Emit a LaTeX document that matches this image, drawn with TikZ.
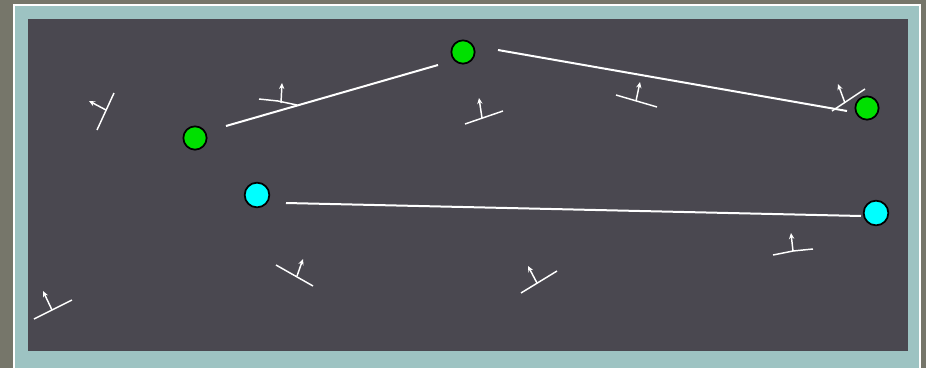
\documentclass[tikz,border=0pt]{standalone}
\usetikzlibrary{arrows.meta,calc}
\definecolor{outergray}{HTML}{76766A}
\definecolor{framecol}{HTML}{9DC3C2}
\definecolor{darkbg}{HTML}{4A4850}
\definecolor{ngreen}{HTML}{00E000}
\definecolor{ncyan}{HTML}{00FFFF}
\tikzset{
  pt/.style={circle, draw=black, line width=1.3pt, minimum size=17.5pt, inner sep=0pt, outer sep=0pt},
  gpt/.style={pt, fill=ngreen},
  cpt/.style={pt, fill=ncyan, minimum size=18.5pt},
  link/.style={white, line width=1.5pt},
  wall/.style={white, line width=1.1pt},
  dir/.style={white, line width=1.1pt, -{Stealth[length=4.5pt,width=4pt]}}
}
\begin{document}
\begin{tikzpicture}[x=0.75pt,y=-0.75pt]
\useasboundingbox (0,0) rectangle (926,368);
\fill[outergray] (0,0) rectangle (926,368);
\fill[white] (13,4) rectangle (921,368);
\fill[framecol] (15,6) rectangle (919,368);
\fill[darkbg] (28,19) rectangle (908,351);
% points
\node[gpt] (g1) at (195,138) {};
\node[gpt] (g2) at (463,52) {};
\node[gpt] (g3) at (867,108) {};
\node[cpt] (c1) at (257,195) {};
\node[cpt] (c2) at (876,213) {};
% links
\draw[link] ($(g1)+(31,-12)$) -- ($(g2)+(-25,13)$);
\draw[link] ($(g2)+(35,-2)$) -- ($(g3)+(-20,3)$);
\draw[link] ($(c1)+(29,8)$) -- ($(c2)+(-15,3)$);
% wall glyphs
\draw[wall] (114,93) -- (97,130);
\draw[dir] (106,110) -- (89,101);
\draw[wall] (259,99) -- (278,101) -- (297,105);
\draw[dir] (281,103) -- (282,83);
\draw[wall] (465,124) -- (503,111);
\draw[dir] (482,118) -- (479,98);
\draw[wall] (616,95) -- (657,107);
\draw[dir] (636,101) -- (640,82);
\draw[wall] (832,111) -- (865,89);
\draw[dir] (845,103) -- (838,84);
\draw[wall] (276,265) -- (313,286);
\draw[dir] (297,276) -- (303,259);
\draw[wall] (521,293) -- (557,271);
\draw[dir] (537,283) -- (528,266);
\draw[wall] (773,255) -- (793,251) -- (813,249);
\draw[dir] (793,251) -- (791,233);
\draw[wall] (34,319) -- (72,300);
\draw[dir] (52,310) -- (43,291);
\end{tikzpicture}
\end{document}
